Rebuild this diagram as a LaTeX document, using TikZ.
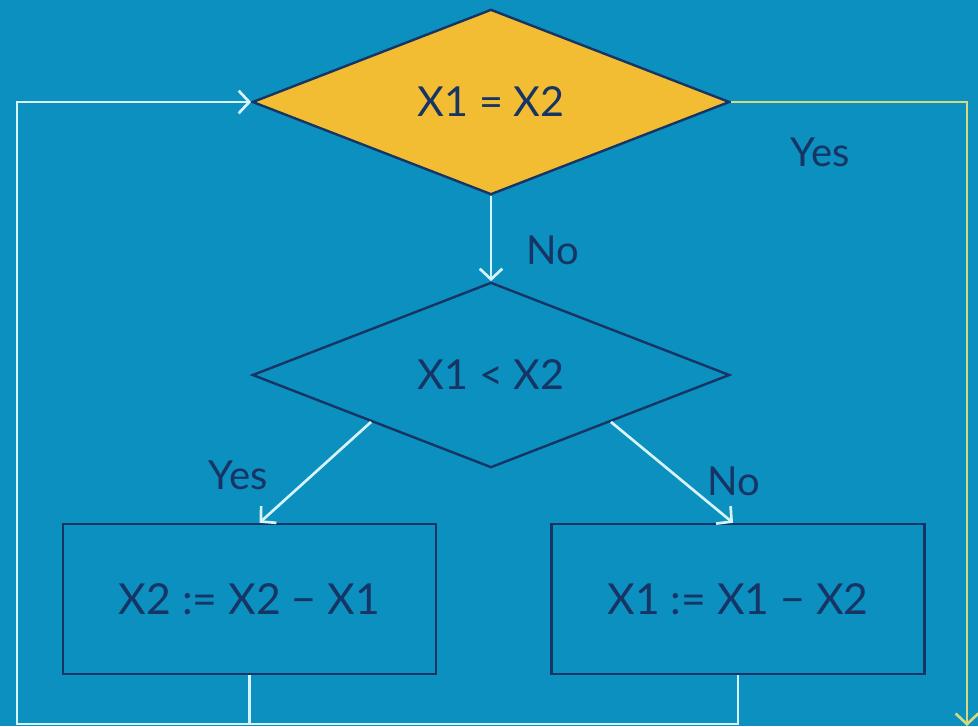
\documentclass[tikz,border=0pt]{standalone}
\usepackage{fontspec}
\setmainfont{Lato}
\usetikzlibrary{shapes.geometric,arrows.meta}
\definecolor{bg}{RGB}{11,144,192}
\definecolor{navy}{RGB}{22,52,100}
\definecolor{gold}{RGB}{242,189,50}
\definecolor{wire}{RGB}{214,244,250}
\definecolor{yeswire}{RGB}{214,216,130}
\begin{document}
\begin{tikzpicture}[x=0.75pt,y=-0.75pt,
  decision/.style={diamond, draw=navy, line width=1.8pt, minimum width=358pt,
    minimum height=139pt, inner sep=0pt, text=navy, font=\fontsize{31}{36}\selectfont},
  procbox/.style={rectangle, draw=navy, line width=1.8pt, minimum width=280pt,
    minimum height=112.5pt, text=navy, font=\fontsize{32}{38}\selectfont},
  flow/.style={draw=wire, line width=2pt,
    -{Straight Barb[length=8pt,width=17pt,line width=2pt]}},
  plainflow/.style={draw=wire, line width=2pt},
  lbl/.style={text=navy, inner sep=0pt, font=\fontsize{30}{36}\selectfont}]
\fill[bg] (0,0) rectangle (978,726);
\useasboundingbox (0,0) rectangle (978,726);

% decisions and steps
\node[decision, fill=gold] (eq) at (491,102) {X1 = X2};
\node[decision] (lt) at (491,375) {X1 < X2};
\node[procbox] (sub2) at (249.5,599) {X2 := X2 − X1};
\node[procbox] (sub1) at (738,599) {X1 := X1 − X2};

% branch labels
\node[lbl] (noA) at (553,250) {No};
\node[lbl] (yesA) at (820,152) {Yes};
\node[lbl] (yesB) at (238,475) {Yes};
\node[lbl] (noB) at (734,481) {No};

% helper points for the loop and the exit
\coordinate (bl) at (17,724);
\coordinate (tr) at (967,102);
\coordinate (exit) at (967,726);

% connectors
\draw[flow] (eq.south) -- (lt.north);
\draw[flow] (lt.south west) -- ([xshift=7.5pt]sub2.north);
\draw[flow] (lt.south east) -- ([xshift=-3.75pt]sub1.north);
\draw[plainflow] (sub1.south) -- (sub1.south |- bl) -- (sub2.south |- bl);
\draw[flow, line join=miter] (sub2.south) -- (sub2.south |- bl) -- (bl) -- (bl |- eq.west) -- (eq.west);
\draw[flow, draw=yeswire] (eq.east) -- (tr) -- (exit);
\end{tikzpicture}
\end{document}
